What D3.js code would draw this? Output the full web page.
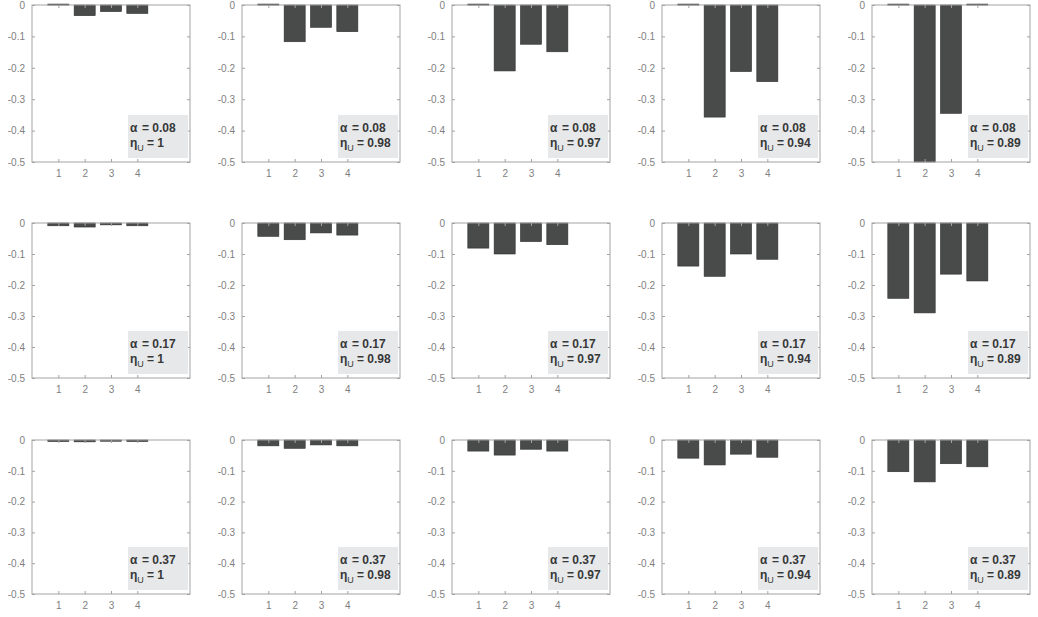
<!DOCTYPE html>
<html>
<head>
<meta charset="utf-8">
<script src="https://cdn.jsdelivr.net/npm/d3@7"></script>
<style>
  html, body { margin: 0; padding: 0; background: #ffffff; }
  svg { display: block; }
</style>
</head>
<body>
<svg id="chart" width="1038" height="617"></svg>
<script>
// Grid parameters: one row per alpha, one column per eta_U
const alphas = [0.08, 0.17, 0.37];
const etas = [1, 0.98, 0.97, 0.94, 0.89];
const categories = [1, 2, 3, 4];
const yTicks = [0, -0.1, -0.2, -0.3, -0.4, -0.5];

// Bar heights for alpha = 0.08, one array per eta_U
const changeAlpha008 = [
  [0.003, -0.034, -0.021, -0.027],
  [0.003, -0.117, -0.071, -0.085],
  [0.003, -0.210, -0.125, -0.149],
  [0.003, -0.357, -0.212, -0.244],
  [0.003, -0.500, -0.345, 0.003]
];
// Bar heights for alpha = 0.17
const changeAlpha017 = [
  [-0.009, -0.013, -0.006, -0.009],
  [-0.043, -0.054, -0.032, -0.039],
  [-0.081, -0.100, -0.060, -0.070],
  [-0.139, -0.172, -0.100, -0.117],
  [-0.243, -0.290, -0.165, -0.187]
];
// Bar heights for alpha = 0.37
const changeAlpha037 = [
  [-0.005, -0.006, -0.004, -0.005],
  [-0.019, -0.027, -0.016, -0.019],
  [-0.036, -0.049, -0.030, -0.036],
  [-0.059, -0.081, -0.046, -0.056],
  [-0.103, -0.136, -0.077, -0.087]
];
const rowsData = [changeAlpha008, changeAlpha017, changeAlpha037];

// Panel placement
const colLeft = [32, 242, 452, 662, 872];
const rowTop = [5, 223, 440];
const rowHeight = [157, 155, 154];
const panelWidth = 158;

const svg = d3.select("#chart");
const axisColor = "#a3a3a3";
const labelColor = "#808080";
const fontFamily = "'Liberation Sans', Arial, sans-serif";

rowsData.forEach((rowVals, r) => {
  rowVals.forEach((vals, c) => {
    const w = panelWidth, h = rowHeight[r];
    const g = svg.append("g").attr("transform", `translate(${colLeft[c]},${rowTop[r]})`);

    const x = d3.scaleLinear().domain([0, 6]).range([0, w]);
    const y = d3.scaleLinear().domain([-0.5, 0]).range([h, 0]);
    const barW = x(0.8) - x(0);

    // bars
    g.selectAll("rect.bar")
      .data(vals.map((v, i) => ({ cat: categories[i], v })))
      .join("rect")
      .attr("class", "bar")
      .attr("x", d => x(d.cat) - barW / 2)
      .attr("width", barW)
      .attr("y", d => Math.min(y(d.v), y(0)))
      .attr("height", d => Math.max(1, Math.abs(y(d.v) - y(0))))
      .attr("fill", "#484b49")
      .attr("stroke", "#2e302f")
      .attr("stroke-width", 0.6);

    // y axis (left, labelled) and mirrored right ticks
    const yAxis = d3.axisLeft(y).tickValues(yTicks)
      .tickFormat(d => d === 0 ? "0" : d3.format(".1f")(d).replace("−", "-"))
      .tickSizeInner(-3).tickSizeOuter(0).tickPadding(7);
    const ya = g.append("g").call(yAxis);
    ya.select(".domain").remove();
    ya.selectAll("line").attr("stroke", axisColor);
    ya.selectAll("text").attr("fill", labelColor)
      .style("font-family", fontFamily).style("font-size", "10px");

    const yr = g.append("g").attr("transform", `translate(${w},0)`)
      .call(d3.axisRight(y).tickValues(yTicks).tickSizeInner(-3).tickSizeOuter(0).tickFormat(""));
    yr.select(".domain").remove();
    yr.selectAll("line").attr("stroke", axisColor);

    // x axis (bottom, labelled) and mirrored top ticks
    const xa = g.append("g").attr("transform", `translate(0,${h})`)
      .call(d3.axisBottom(x).tickValues(categories).tickFormat(d3.format("d"))
        .tickSizeInner(-3).tickSizeOuter(0).tickPadding(8));
    xa.select(".domain").remove();
    xa.selectAll("line").attr("stroke", axisColor);
    xa.selectAll("text").attr("fill", labelColor)
      .style("font-family", fontFamily).style("font-size", "10px");

    const xt = g.append("g")
      .call(d3.axisTop(x).tickValues(categories).tickSizeInner(-3).tickSizeOuter(0).tickFormat(""));
    xt.select(".domain").remove();
    xt.selectAll("line").attr("stroke", axisColor);

    // axes box
    g.append("rect")
      .attr("x", 0).attr("y", 0).attr("width", w).attr("height", h)
      .attr("fill", "none").attr("stroke", axisColor).attr("stroke-width", 1);

    // parameter annotation
    const ann = g.append("g").attr("transform", `translate(${w - 62},${h - 47})`);
    ann.append("rect")
      .attr("x", 0).attr("y", 0).attr("width", 60).attr("height", 43)
      .attr("fill", "#e6e8ea");
    const t1 = ann.append("text")
      .attr("x", 2).attr("y", 17)
      .attr("fill", "#383838")
      .style("font-family", fontFamily).style("font-size", "12px").style("font-weight", "bold");
    t1.append("tspan").text("α");
    t1.append("tspan").attr("x", 14).text("= " + alphas[r]);

    const t2 = ann.append("text")
      .attr("x", 2).attr("y", 32)
      .attr("fill", "#383838")
      .style("font-family", fontFamily).style("font-size", "12px").style("font-weight", "bold");
    t2.append("tspan").text("η");
    t2.append("tspan").attr("dy", 4).style("font-size", "9px").style("font-weight", "normal").text("U");
    t2.append("tspan").attr("x", 19).attr("dy", -4).text("= " + etas[c]);
  });
});
</script>
</body>
</html>
